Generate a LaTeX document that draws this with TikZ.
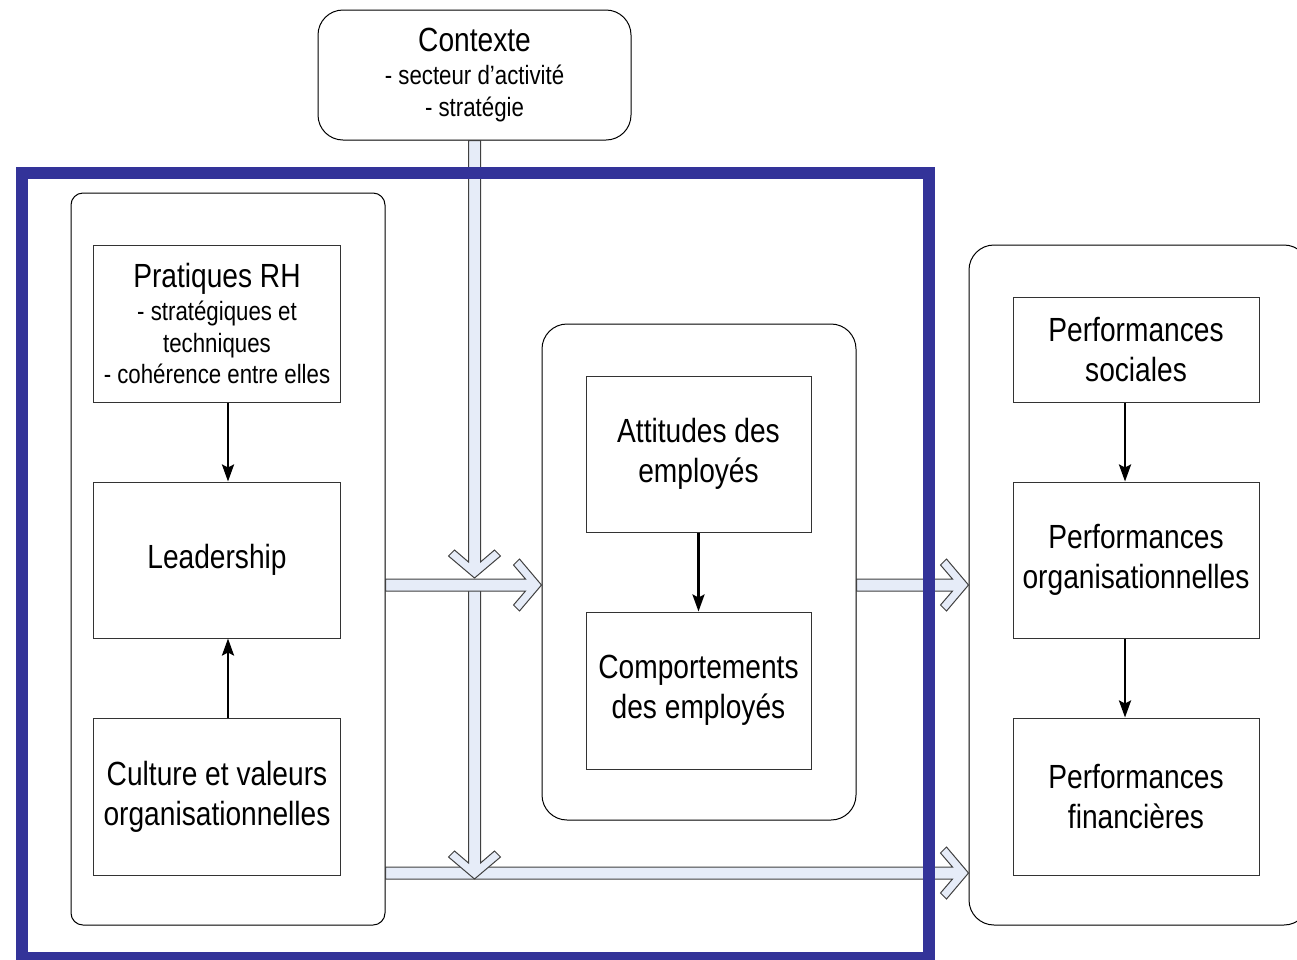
\documentclass[tikz,border=0pt]{standalone}
\usepackage{fontspec}
\setmainfont{Liberation Sans}[FakeStretch=0.84]
\usetikzlibrary{positioning,calc,arrows.meta}
\definecolor{frameblue}{RGB}{51,51,153}
\definecolor{arrowfill}{RGB}{230,236,248}
\newcommand{\bigtxt}{\fontsize{33.5}{40}\selectfont}
\newcommand{\smalltxt}{\fontsize{26.5}{31.5}\selectfont}
% broad open arrow, from #1 to the tip #2
\newcommand{\hollowarrow}[2]{%
  \draw[hollow] ($(#1)!6pt!90:(#2)$) -- ($(#2)!17.09pt!-20.56:(#1)$)
    -- ($(#2)!34.41pt!-35.54:(#1)$) -- ($(#2)!34.06pt!-49.76:(#1)$) -- (#2)
    -- ($(#2)!34.06pt!49.76:(#1)$) -- ($(#2)!34.41pt!35.54:(#1)$)
    -- ($(#2)!17.09pt!20.56:(#1)$) -- ($(#1)!6pt!-90:(#2)$) -- cycle;}
\tikzset{
  box/.style={rectangle,draw=black!80,line width=1pt,fill=white,align=center,
    inner sep=0pt,font=\bigtxt},
  group/.style={rectangle,draw=black,line width=1pt,fill=white,rounded corners=25pt},
  flow/.style={-{Stealth[length=17pt,width=12pt,inset=3pt]},line width=2.6pt},
  hollow/.style={draw=black!75,fill=arrowfill,line width=1pt,line join=miter}
}

\begin{document}
\begin{tikzpicture}[x=1pt,y=-1pt,node distance=79pt]
\useasboundingbox (0,0) rectangle (1297,959);
% containers
\node[group,minimum width=313pt,minimum height=130pt,align=center,font=\smalltxt] (ctx) at (474.5,75)
  {{\bigtxt Contexte}\\[2pt]- secteur d’activité\\- stratégie};
\node[group,rounded corners=12pt,minimum width=314pt,minimum height=732pt] (lbox) at (228,559) {};
\node[group,minimum width=314pt,minimum height=496pt] (mbox) at (699,572) {};
\node[group,minimum width=340pt,minimum height=680pt] (rbox) at (1139,585) {};
% left column
\node[box,minimum width=247pt,minimum height=157pt,font=\smalltxt] (prh) at (217,323.5)
  {{\bigtxt Pratiques RH}\\[2pt]- stratégiques et\\techniques\\- cohérence entre elles};
\node[box,minimum width=247pt,minimum height=156pt] (lead) [below=of prh] {Leadership};
\node[box,minimum width=247pt,minimum height=157pt] (cult) [below=of lead] {Culture et valeurs\\organisationnelles};
% middle column
\node[box,minimum width=225pt,minimum height=156pt] (att) at (698.5,454) {Attitudes des\\employés};
\node[box,minimum width=225pt,minimum height=157pt] (comp) [below=of att] {Comportements\\des employés};
% right column
\node[box,minimum width=246pt,minimum height=105pt] (psoc) at (1136,349.5) {Performances\\sociales};
\node[box,minimum width=246pt,minimum height=156pt] (porg) [below=of psoc] {Performances\\organisationnelles};
\node[box,minimum width=246pt,minimum height=157pt] (pfin) [below=of porg] {Performances\\financières};
% black arrows
\draw[flow] (prh.south -| lbox.center) -- (lead.north -| lbox.center);
\draw[flow] (cult.north -| lbox.center) -- (lead.south -| lbox.center);
\draw[flow] (att.south) -- (comp.north);
\draw[flow] ($(psoc.south)+(-11,0)$) -- ($(porg.north)+(-11,0)$);
\draw[flow] ($(porg.south)+(-11,0)$) -- ($(pfin.north)+(-11,0)$);
% open arrows
\coordinate (row) at (0,585);
\coordinate (low) at (0,873);
\coordinate (a1) at (lbox.east |- row);
\coordinate (a2) at (mbox.west |- row);
\coordinate (b1) at (mbox.east |- row);
\coordinate (b2) at (rbox.west |- row);
\coordinate (c1) at (lbox.east |- low);
\coordinate (c2) at (rbox.west |- low);
\coordinate (v1) at ($(ctx.south |- row)+(0,-7)$);
\coordinate (v2) at (ctx.south |- row);
\coordinate (v3) at ($(ctx.south |- low)+(0,6)$);
\hollowarrow{c1}{c2}
\hollowarrow{v2}{v3}
\hollowarrow{ctx.south}{v1}
\hollowarrow{a1}{a2}
\hollowarrow{b1}{b2}
% scope frame
\draw[frameblue,line width=12pt] (22,173) rectangle (929,958);
\end{tikzpicture}
\end{document}
